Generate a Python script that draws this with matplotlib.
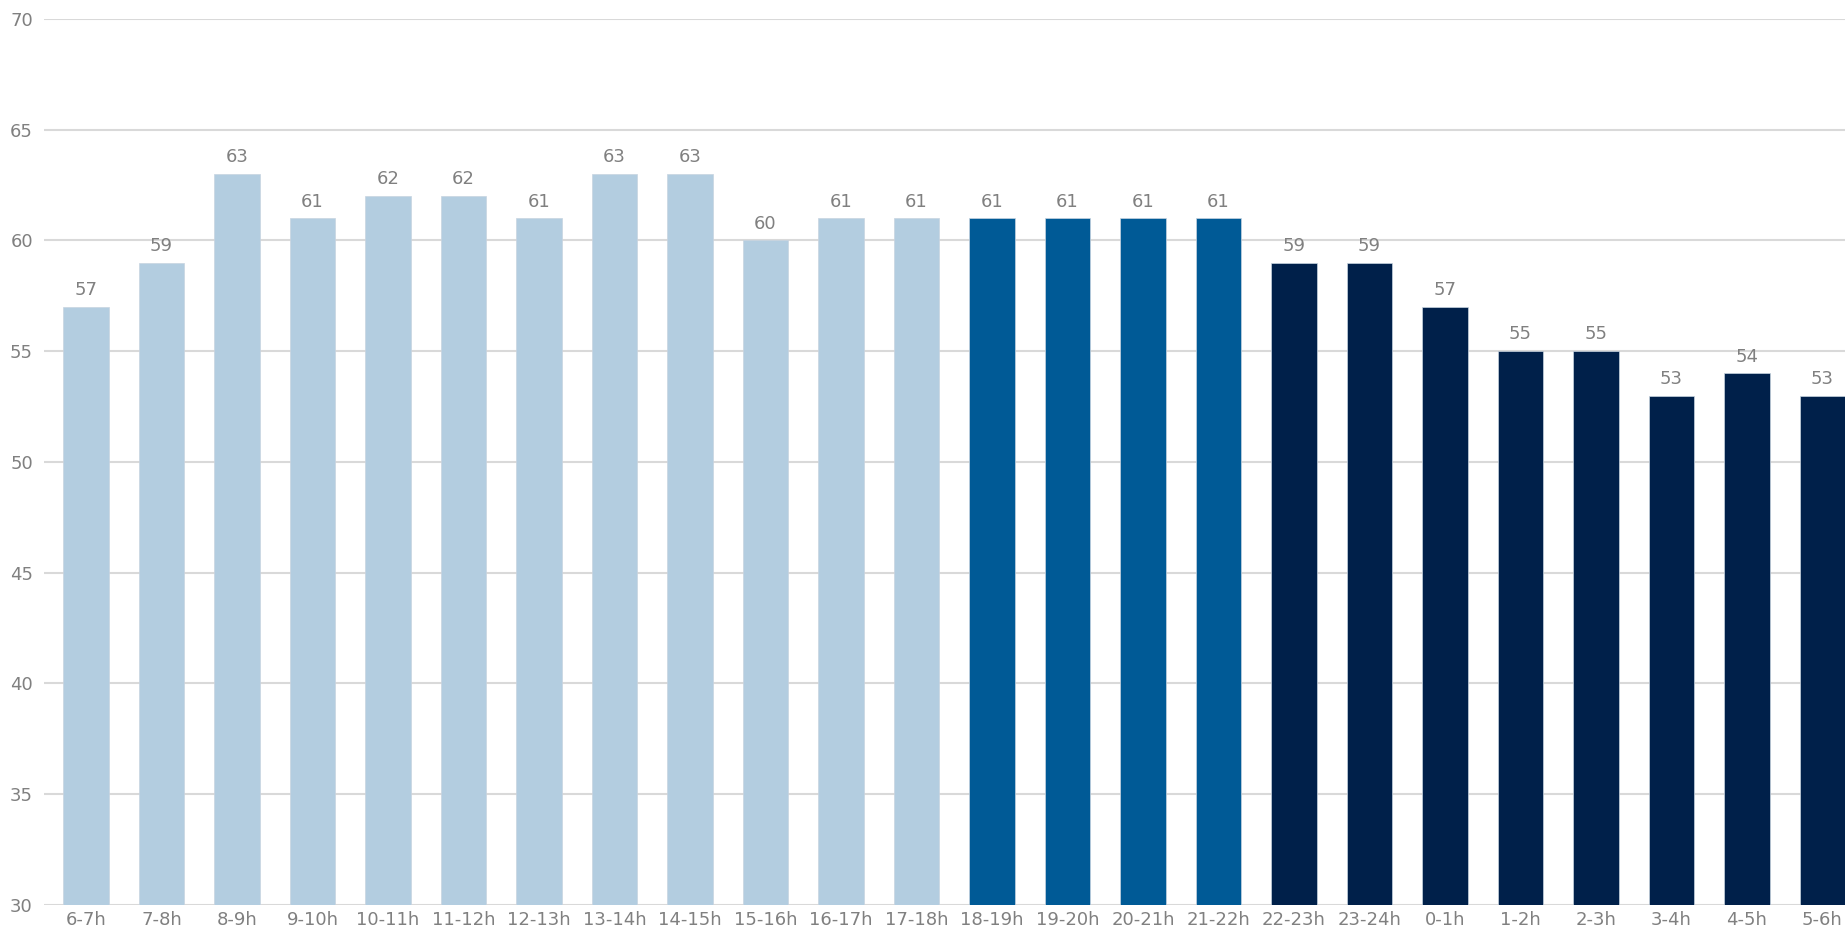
import matplotlib
matplotlib.use('Agg')
import matplotlib.pyplot as plt
import numpy as np

# 시간대별 값
hours = ['6-7h', '7-8h', '8-9h', '9-10h', '10-11h', '11-12h', '12-13h', '13-14h',
         '14-15h', '15-16h', '16-17h', '17-18h', '18-19h', '19-20h', '20-21h', '21-22h',
         '22-23h', '23-24h', '0-1h', '1-2h', '2-3h', '3-4h', '4-5h', '5-6h']
values = [57, 59, 63, 61, 62, 62, 61, 63, 63, 60, 61, 61,
          61, 61, 61, 61, 59, 59, 57, 55, 55, 53, 54, 53]
# 구간별 색상 그룹 (주간 / 저녁 / 야간)
groups = ['day'] * 12 + ['evening'] * 4 + ['night'] * 8
group_colors = {'day': '#b3cde0', 'evening': '#005a96', 'night': '#00204a'}
yticks = [30, 35, 40, 45, 50, 55, 60, 65, 70]

fig = plt.figure(figsize=(18.45, 9.32), dpi=100)
ax = fig.add_axes([44 / 1845, 1 - 905 / 932, 1 - 44 / 1845, (905 - 19) / 932])

x = np.arange(len(hours))
colors = [group_colors[g] for g in groups]
bars = ax.bar(x, values, width=0.6, color=colors, edgecolor='#c8d4e0', linewidth=0.5, zorder=3)

for xi, v in zip(x, values):
    ax.text(xi, v + 0.35, str(v), ha='center', va='bottom', fontsize=13, color='#808080', zorder=4)

ax.set_ylim(30, 70)
ax.set_xlim(-0.556, 23.3)
ax.set_yticks(yticks)
ax.set_xticks(x)
ax.set_xticklabels(hours)
ax.tick_params(axis='both', length=0, colors='#808080', labelsize=13)
ax.tick_params(axis='x', pad=4)
ax.tick_params(axis='y', pad=8)
ax.grid(axis='y', color='#d9d9d9', linewidth=1.5, zorder=0)
for spine in ax.spines.values():
    spine.set_visible(False)

fig.savefig('out.png', dpi=100)
